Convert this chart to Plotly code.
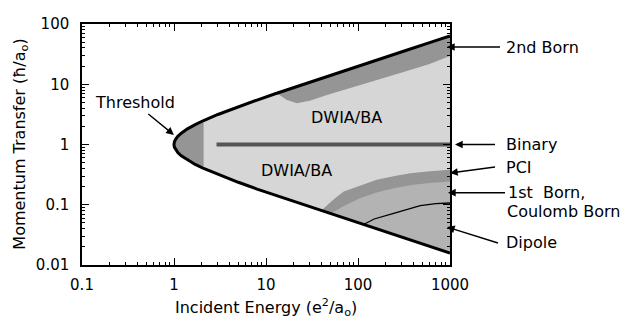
import plotly.graph_objects as go

# Kinematic boundaries of the (E, K) plane: incident energy vs. momentum transfer
energy = [1.0, 1.01, 1.04, 1.1, 1.2, 1.4, 1.7, 2.1, 3, 5, 8, 12.6, 20, 30, 40,
          50, 70, 115, 200, 350, 600, 1000]
k_max = [1.0, 1.105, 1.22, 1.365, 1.54, 1.82, 2.14, 2.50, 3.15, 4.24, 5.47, 6.96,
         8.83, 10.86, 12.57, 14.07, 16.67, 21.4, 28.25, 37.39, 48.97, 63.23]
k_min = [1.0, 0.905, 0.82, 0.732, 0.648, 0.551, 0.467, 0.400, 0.318, 0.236, 0.182,
         0.144, 0.113, 0.092, 0.080, 0.071, 0.060, 0.047, 0.0354, 0.0267, 0.0204,
         0.0158]

# Threshold region ends where the DWIA/BA region begins
threshold_end = 2.1

# Lower edge of the 2nd Born band (upper edge is k_max), from high to low energy
born2_start = 12.6
born2_low_e = [1000, 600, 300, 160, 80, 46, 30, 21.7, 16.9, 14.0]
born2_low_k = [29.5, 21.7, 15.7, 11.8, 8.5, 6.6, 5.3, 4.85, 5.5, 6.6]

# PCI band: upper edge
pci_top_e = [40, 55, 70, 100, 160, 250, 370, 600, 1000]
pci_top_k = [0.080, 0.125, 0.166, 0.20, 0.259, 0.30, 0.334, 0.36, 0.38]

# 1st Born / Coulomb Born region: upper edge
born1_top_e = [50, 70, 106, 160, 244, 400, 600, 1000]
born1_top_k = [0.071, 0.095, 0.129, 0.16, 0.188, 0.215, 0.23, 0.243]

# Dipole region boundary
dipole_e = [115, 150, 244, 350, 475, 700, 1000]
dipole_k = [0.047, 0.058, 0.072, 0.085, 0.097, 0.104, 0.107]

# Binary-encounter ridge
binary_e = [2.9, 1000]
binary_k = [1.0, 1.0]

x_ticks = [0.1, 1, 10, 100, 1000]
x_tick_text = ["0.1", "1", "10", "100", "1000"]
y_ticks = [0.01, 0.1, 1, 10, 100]
y_tick_text = ["0.01", "0.1", "1", "10", "100"]

FONT = "DejaVu Sans"
LIGHT = "#d6d6d6"
DARK = "#959595"
MEDIUM = "#b3b3b3"


def band(e_top, k_top, e_bottom, k_bottom):
    return list(e_top) + list(e_bottom), list(k_top) + list(k_bottom)


fig = go.Figure()


def add_fill(xs, ys, color):
    fig.add_trace(go.Scatter(x=xs, y=ys, mode="lines", fill="toself",
                             fillcolor=color, line=dict(width=0),
                             hoverinfo="skip"))


# Whole allowed region (DWIA/BA)
x, y = band(energy, k_max, energy[::-1], k_min[::-1])
add_fill(x, y, LIGHT)

# Threshold region
i = energy.index(threshold_end) + 1
x, y = band(energy[:i], k_max[:i], energy[:i][::-1], k_min[:i][::-1])
add_fill(x, y, DARK)

# 2nd Born band
j = energy.index(born2_start)
x, y = band(energy[j:], k_max[j:], born2_low_e, born2_low_k)
add_fill(x, y, DARK)

# PCI band (down to k_min, then overlaid by the 1st Born region)
k = energy.index(pci_top_e[0])
x, y = band(pci_top_e, pci_top_k, energy[k:][::-1], k_min[k:][::-1])
add_fill(x, y, DARK)

# 1st Born / Coulomb Born region
m = energy.index(born1_top_e[0])
x, y = band(born1_top_e, born1_top_k, energy[m:][::-1], k_min[m:][::-1])
add_fill(x, y, MEDIUM)

# Dipole boundary
fig.add_trace(go.Scatter(x=dipole_e, y=dipole_k, mode="lines",
                         line=dict(color="black", width=1.3), hoverinfo="skip"))

# Binary ridge
fig.add_trace(go.Scatter(x=binary_e, y=binary_k, mode="lines",
                         line=dict(color="#555555", width=4), hoverinfo="skip"))

# Outline of the kinematically allowed region
fig.add_trace(go.Scatter(x=energy[::-1] + energy[1:], y=k_min[::-1] + k_max[1:],
                         mode="lines", line=dict(color="black", width=3),
                         hoverinfo="skip"))

minor_vals = lambda lo, hi: [m * 10 ** d for d in range(lo, hi) for m in range(2, 10)]

axis_common = dict(type="log", showline=True, linecolor="black", linewidth=1.5,
                   mirror="allticks", ticks="inside", ticklen=7, tickwidth=1.2,
                   tickcolor="black", showgrid=False, zeroline=False,
                   tickfont=dict(family=FONT, size=15, color="black"))

fig.update_xaxes(range=[-1, 3], tickvals=x_ticks, ticktext=x_tick_text,
                 ticklabelstandoff=5,
                 minor=dict(ticks="inside", ticklen=3.5, tickwidth=1,
                            tickcolor="black", tickvals=minor_vals(-1, 3)),
                 **axis_common)
fig.update_yaxes(range=[-2, 2], tickvals=y_ticks, ticktext=y_tick_text,
                 ticklabelstandoff=8,
                 minor=dict(ticks="inside", ticklen=3.5, tickwidth=1,
                            tickcolor="black", tickvals=minor_vals(-2, 2)),
                 **axis_common)

txt = dict(family=FONT, size=16, color="black")

annotations = [
    dict(text="Incident Energy (e<sup>2</sup>/a<sub>o</sub>)", xref="paper",
         yref="paper", x=0.5, y=-0.177, xanchor="center", yanchor="middle",
         showarrow=False),
    dict(text="Momentum Transfer (ħ/a<sub>o</sub>)", xref="paper", yref="paper",
         x=-0.168, y=0.5, textangle=-90, xanchor="center", yanchor="middle",
         showarrow=False),
    dict(text="DWIA/BA", xref="paper", yref="paper", x=0.720, y=0.614,
         xanchor="center", yanchor="middle", showarrow=False),
    dict(text="DWIA/BA", xref="paper", yref="paper", x=0.584, y=0.394,
         xanchor="center", yanchor="middle", showarrow=False),
    dict(text="Coulomb Born", xref="paper", yref="paper", x=1.149, y=0.224,
         xanchor="left", yanchor="middle", showarrow=False),
]

# Labels with pointer arrows: tip x in paper units, tip y in log10 data units,
# label offset in px, gap between arrow tail and text
arrows = [("Threshold", 0.2497, 0.159, -39, -32, "center", 1),
          ("2nd Born", 0.9918, 1.618, 53, 0, "left", 5),
          ("Binary", 1.0136, 0.0, 40, 0, "left", 10),
          ("PCI", 1.0, -0.473, 45, -6, "left", 10),
          ("1st  Born,", 0.9946, -0.80, 57, 0, "left", 2),
          ("Dipole", 0.9918, -1.369, 51, 16, "left", 7)]
for label, tx, ty, dx, dy, anchor, pad in arrows:
    annotations.append(dict(x=tx, y=ty, xref="paper", yref="y", text=label,
                            showarrow=True, ax=dx, ay=dy, xanchor=anchor,
                            yanchor="middle", arrowhead=2, arrowsize=1.1,
                            arrowwidth=1.4, arrowcolor="black", borderpad=pad))

for a in annotations:
    a["font"] = txt

fig.update_layout(width=622, height=320, margin=dict(l=82, r=172, t=24, b=55),
                  paper_bgcolor="white", plot_bgcolor="white", showlegend=False,
                  annotations=annotations, font=txt)

fig.write_html("out.html")
